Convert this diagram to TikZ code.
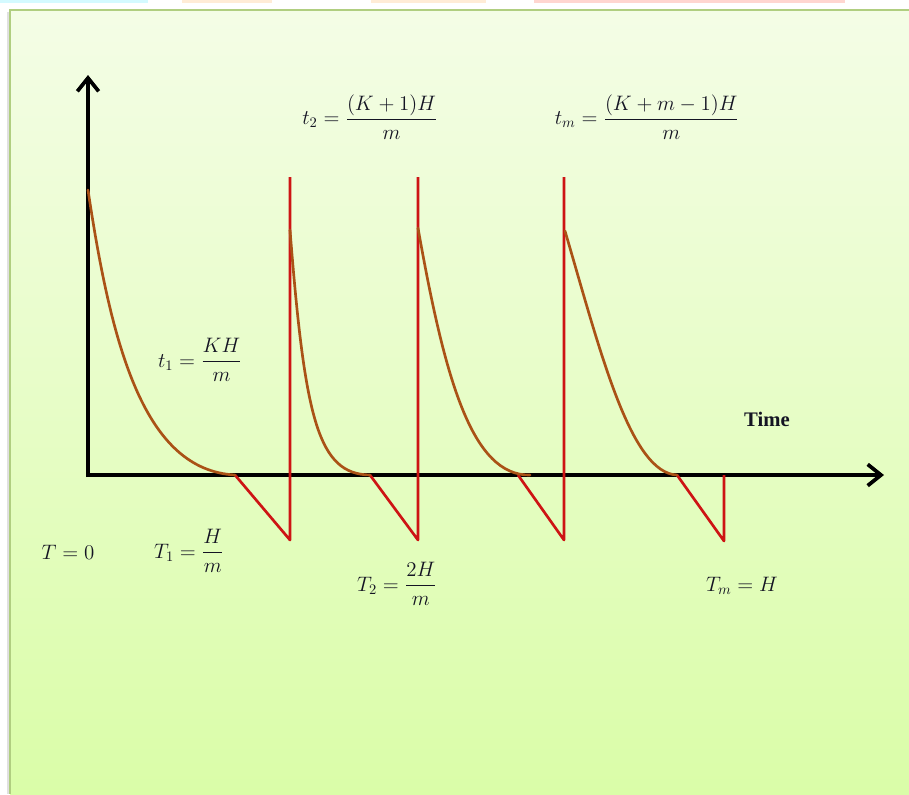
\documentclass[tikz,border=0pt]{standalone}
\usepackage{amsmath}
\usepackage{fontspec}
\newfontfamily\timefont{Liberation Serif}
\usetikzlibrary{arrows.meta}
\definecolor{framegreen}{RGB}{176,206,128}
\definecolor{bgtop}{RGB}{244,253,230}
\definecolor{bgbot}{RGB}{218,253,168}
\definecolor{curvebrown}{RGB}{170,82,22}
\definecolor{spikered}{RGB}{205,20,20}
\definecolor{inkdark}{RGB}{20,20,35}
\definecolor{tabcyan}{RGB}{212,250,255}
\definecolor{tabpeach}{RGB}{255,236,214}
\definecolor{tabpink}{RGB}{255,214,208}
\begin{document}
\begin{tikzpicture}[x=0.75pt,y=-0.75pt,
  axisline/.style={line width=3pt, black, line cap=butt,
    -{Straight Barb[length=10pt,width=16pt,line width=2.8pt]}},
  spike/.style={line width=2pt, spikered, line join=round},
  decay/.style={line width=2pt, curvebrown, line cap=round},
  mathlabel/.style={inner sep=0pt, text=inkdark, scale=1.09, font=\fontsize{14.4}{17}\selectfont},
  timelabel/.style={inner sep=0pt, text=inkdark, font=\timefont\bfseries\fontsize{15.5}{18}\selectfont}]
\useasboundingbox (0,0) rectangle (909,794);
% faint tabs at the top edge
\fill[tabcyan] (0,0) rectangle (148,3);
\fill[tabpeach] (182,0) rectangle (272,3);
\fill[tabpeach] (371,0) rectangle (486,3);
\fill[tabpink] (534,0) rectangle (845,3);
% panel
\fill[black!12] (7,12) rectangle (10,794);
\shade[top color=bgtop, bottom color=bgbot] (10,10) rectangle (909,794);
\draw[framegreen, line width=1.5pt] (10,794) -- (10,10) -- (909,10);
% key points
\coordinate (O) at (88,475);
\coordinate (ytip) at (88,75);
\coordinate (xtip) at (884,475);
\coordinate (s1) at (88,190);
\coordinate (e1) at (235,475);
\coordinate (b1) at (290,540);
\coordinate (u1) at (290,177);
\coordinate (s2) at (290,230);
\coordinate (e2) at (370,475);
\coordinate (b2) at (418,540);
\coordinate (u2) at (418,177);
\coordinate (s3) at (418,228);
\coordinate (e3) at (518,475);
\coordinate (f3) at (530,475);
\coordinate (b3) at (564,540);
\coordinate (u3) at (564,177);
\coordinate (s4) at (565,231);
\coordinate (e4) at (677,475);
\coordinate (b4) at (724,541);
\coordinate (u4) at (724,475);
% axes
\draw[axisline] (88,477) -- (ytip);
\draw[axisline] (86,475) -- (xtip);
% red spikes
\draw[spike] (e1) -- (b1) -- (u1);
\draw[spike] (e2) -- (b2) -- (u2);
\draw[spike] (e3) -- (b3) -- (u3);
\draw[spike] (e4) -- (b4) -- (u4);
% decay curves
\draw[decay] (s1) .. controls (112,350) and (145,470) .. (e1);
\draw[decay] (s2) .. controls (305,420) and (318,474) .. (e2);
\draw[decay] (s3) .. controls (445,380) and (472,476) .. (f3);
\draw[decay] (s4) .. controls (600,350) and (630,473) .. (e4);
% labels
\node[mathlabel] (lt2) at (370,117) {$t_2=\dfrac{(K+1)H}{m}$};
\node[mathlabel] (ltm) at (647,117) {$t_m=\dfrac{(K+m-1)H}{m}$};
\node[mathlabel] (lt1) at (200,360) {$t_1=\dfrac{KH}{m}$};
\node[timelabel] (ltime) at (767,419) {Time};
\node[mathlabel] (lT0) at (68,552) {$T=0$};
\node[mathlabel] (lT1) at (189,551) {$T_1=\dfrac{H}{m}$};
\node[mathlabel] (lT2) at (397,584) {$T_2=\dfrac{2H}{m}$};
\node[mathlabel] (lTm) at (742,586) {$T_m=H$};
\end{tikzpicture}
\end{document}
